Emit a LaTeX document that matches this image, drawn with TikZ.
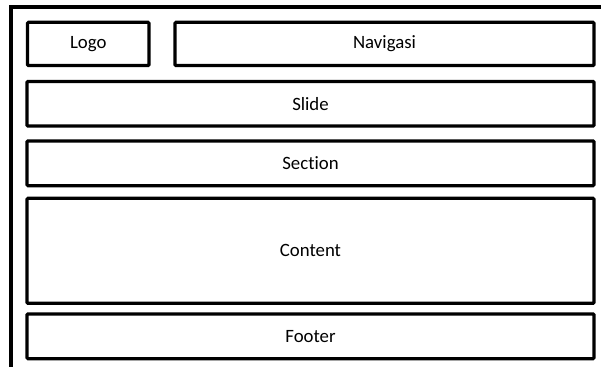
\documentclass[tikz,border=0pt]{standalone}
\usepackage{fontspec}
\setmainfont{Carlito}[RawFeature={-liga;-clig;-dlig}]
\begin{document}
\begin{tikzpicture}[x=1pt,y=-1pt,
  boxstyle/.style={draw=black,line width=3.2pt,rounded corners=1pt},
  lbl/.style={font=\fontsize{18.8}{20}\selectfont,text=black}]
\useasboundingbox (0,0) rectangle (601,367);
\fill[white] (0,0) rectangle (601,367);
% outer frame (top and left only)
\coordinate (ftr) at (601,7);
\coordinate (ftl) at (11,7);
\coordinate (fbl) at (11,367);
\draw[line width=3.4pt] (ftr) -- (ftl) -- (fbl);
% boxes
\draw[boxstyle] (27.5,22.3) rectangle (149,65.5);
\node[lbl] (logo) at (88.25,44) {Logo};
\draw[boxstyle] (175,22.3) rectangle (594,65.5);
\node[lbl] (nav) at (384.5,44) {Navigasi};
\draw[boxstyle] (27,81.5) rectangle (594,126);
\node[lbl] (slide) at (310.5,103.75) {Slide};
\draw[boxstyle] (27,141) rectangle (594,185.7);
\node[lbl] (section) at (310.5,163.35) {Section};
\draw[boxstyle] (27,198.3) rectangle (594,303.3);
\node[lbl] (content) at (310.5,250.8) {Content};
\draw[boxstyle] (27,314) rectangle (594,358.7);
\node[lbl] (footer) at (310.5,336.35) {Footer};
\end{tikzpicture}
\end{document}
